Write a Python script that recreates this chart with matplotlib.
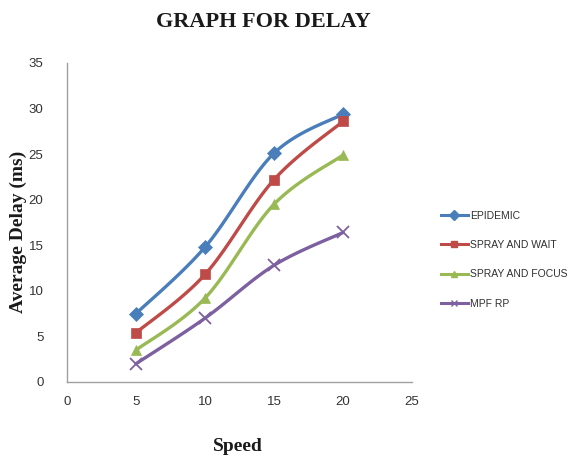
import matplotlib.pyplot as plt
import numpy as np

speed = [5, 10, 15, 20]
epidemic = [7.5, 14.8, 25.1, 29.4]
spray_wait = [5.4, 11.8, 22.2, 28.6]
spray_focus = [3.5, 9.2, 19.5, 24.9]
mpfrp = [2.0, 7.0, 12.8, 16.4]

labels = ['EPIDEMIC', 'SPRAY AND WAIT', 'SPRAY AND FOCUS', 'MPF RP']
colors = ['#4A7EBB', '#BE4B48', '#98B954', '#7D60A0']
markers = ['D', 's', '^', 'x']


def suavizar(x, y, n=30):
    """Curva suavizada estilo Excel (Catmull-Rom / Bezier) passando pelos pontos."""
    p = np.column_stack([x, y]).astype(float)
    p = np.vstack([p[0], p, p[-1]])
    t = np.linspace(0, 1, n)[:, None]
    seg = []
    for i in range(1, len(p) - 2):
        p0, p1, p2, p3 = p[i - 1], p[i], p[i + 1], p[i + 2]
        c1 = p1 + (p2 - p0) / 6
        c2 = p2 - (p3 - p1) / 6
        b = ((1 - t) ** 3) * p1 + 3 * ((1 - t) ** 2) * t * c1 + 3 * (1 - t) * t ** 2 * c2 + t ** 3 * p2
        seg.append(b)
    s = np.vstack(seg)
    return s[:, 0], s[:, 1]


fig = plt.figure(figsize=(5.79, 4.63), dpi=100)
ax = fig.add_axes([0.1157, 0.175, 0.596, 0.689])

series = [epidemic, spray_wait, spray_focus, mpfrp]
for ys, lab, cor, mk in zip(series, labels, colors, markers):
    xs, ys_s = suavizar(speed, ys)
    ax.plot(xs, ys_s, color=cor, linewidth=2.4, solid_capstyle='round')
    ms = 7 if mk != 'x' else 8
    ax.plot(speed, ys, linestyle='none', marker=mk, color=cor, markersize=ms,
            markeredgewidth=1.3 if mk == 'x' else 0.5)
    # entrada da legenda
    ax.plot([], [], color=cor, linewidth=2.2, marker=mk, markersize=5, label=lab)

ax.set_xlim(0, 25)
ax.set_ylim(0, 35)
ax.set_xticks(range(0, 26, 5))
ax.set_yticks(range(0, 36, 5))

for s in ['top', 'right']:
    ax.spines[s].set_visible(False)
for s in ['left', 'bottom']:
    ax.spines[s].set_color('#A0A0A0')
    ax.spines[s].set_linewidth(1)

ax.tick_params(length=0, labelsize=9.5, labelcolor='#333333', pad=10)
ax.tick_params(axis='y', pad=17)
for t in ax.get_xticklabels() + ax.get_yticklabels():
    t.set_fontfamily('Liberation Sans')

fig.text(0.455, 0.952, 'GRAPH FOR DELAY', ha='center', va='center',
         fontsize=16, fontweight='bold', family='Liberation Serif', color='#1a1a1a')
fig.text(0.411, 0.035, 'Speed', ha='center', va='center',
         fontsize=14, fontweight='bold', family='Liberation Serif', color='#1a1a1a')
fig.text(0.032, 0.50, 'Average Delay (ms)', ha='center', va='center', rotation=90,
         fontsize=14, fontweight='bold', family='Liberation Serif', color='#1a1a1a')

leg = fig.legend(loc='upper left', bbox_to_anchor=(0.745, 0.565), frameon=False,
                 prop={'family': 'Liberation Sans', 'size': 7.5},
                 labelspacing=1.85, handlelength=2.6, handletextpad=0.2)
for t in leg.get_texts():
    t.set_color('#303030')

fig.savefig('out.png', dpi=100)
